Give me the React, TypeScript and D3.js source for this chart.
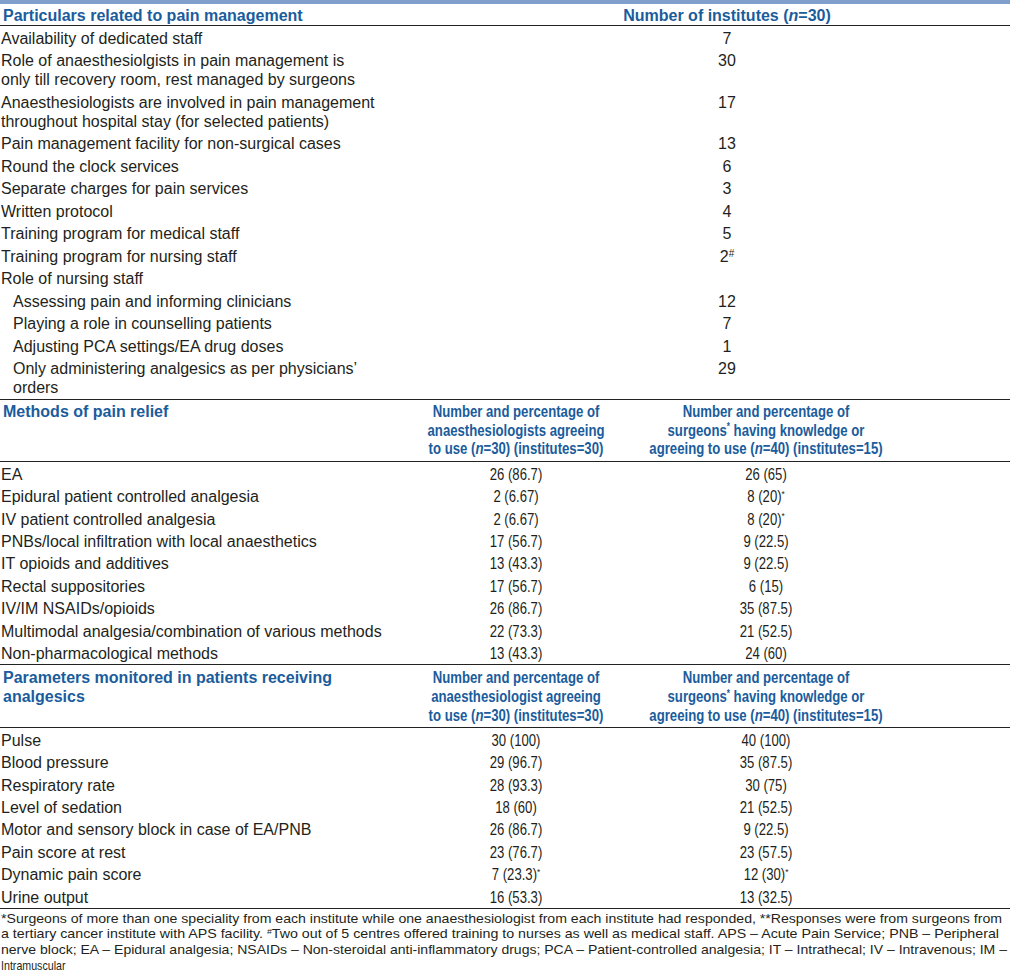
import React from "react";
import * as d3 from "d3";

const W = 1010;
const H = 973;
const BLUE = "#1a5c9c";
const INK = "#231f20";
const BAR = "#809fcd";
const REG = "'Liberation Sans', Arial, sans-serif";
const NARROW_X = 0.82;

// ---------- Section 1 ----------
const s1Header = "Particulars related to pain management";
const s1ColHeader = "Number of institutes ({n}=30)";
const s1Labels: string[][] = [
  ["Availability of dedicated staff"],
  ["Role of anaesthesiolgists in pain management is", "only till recovery room, rest managed by surgeons"],
  ["Anaesthesiologists are involved in pain management", "throughout hospital stay (for selected patients)"],
  ["Pain management facility for non-surgical cases"],
  ["Round the clock services"],
  ["Separate charges for pain services"],
  ["Written protocol"],
  ["Training program for medical staff"],
  ["Training program for nursing staff"],
  ["Role of nursing staff"],
  ["Assessing pain and informing clinicians"],
  ["Playing a role in counselling patients"],
  ["Adjusting PCA settings/EA drug doses"],
  ["Only administering analgesics as per physicians\u2019", "orders"],
];
const s1Indent: boolean[] = [false, false, false, false, false, false, false, false, false, false, true, true, true, true];
const s1Values: string[] = ["7", "30", "17", "13", "6", "3", "4", "5", "2{#}", "", "12", "7", "1", "29"];

// ---------- Section 2 ----------
const s2Header = ["Methods of pain relief"];
const s2ColA = ["Number and percentage of", "anaesthesiologists agreeing", "to use ({n}=30) (institutes=30)"];
const s2ColB = ["Number and percentage of", "surgeons{*} having knowledge or", "agreeing to use ({n}=40) (institutes=15)"];
const s2Methods: string[] = [
  "EA",
  "Epidural patient controlled analgesia",
  "IV patient controlled analgesia",
  "PNBs/local infiltration with local anaesthetics",
  "IT opioids and additives",
  "Rectal suppositories",
  "IV/IM NSAIDs/opioids",
  "Multimodal analgesia/combination of various methods",
  "Non-pharmacological methods",
];
const s2Anaes: string[] = ["26 (86.7)", "2 (6.67)", "2 (6.67)", "17 (56.7)", "13 (43.3)", "17 (56.7)", "26 (86.7)", "22 (73.3)", "13 (43.3)"];
const s2Surg: string[] = ["26 (65)", "8 (20){*}", "8 (20){*}", "9 (22.5)", "9 (22.5)", "6 (15)", "35 (87.5)", "21 (52.5)", "24 (60)"];

// ---------- Section 3 ----------
const s3Header = ["Parameters monitored in patients receiving", "analgesics"];
const s3ColA = ["Number and percentage of", "anaesthesiologist agreeing", "to use ({n}=30) (institutes=30)"];
const s3ColB = ["Number and percentage of", "surgeons{*} having knowledge or", "agreeing to use ({n}=40) (institutes=15)"];
const s3Params: string[] = [
  "Pulse",
  "Blood pressure",
  "Respiratory rate",
  "Level of sedation",
  "Motor and sensory block in case of EA/PNB",
  "Pain score at rest",
  "Dynamic pain score",
  "Urine output",
];
const s3Anaes: string[] = ["30 (100)", "29 (96.7)", "28 (93.3)", "18 (60)", "26 (86.7)", "23 (76.7)", "7 (23.3){*}", "16 (53.3)"];
const s3Surg: string[] = ["40 (100)", "35 (87.5)", "30 (75)", "21 (52.5)", "9 (22.5)", "23 (57.5)", "12 (30){*}", "13 (32.5)"];

// ---------- Footnote ----------
const footnotes: string[] = [
  "*Surgeons of more than one speciality from each institute while one anaesthesiologist from each institute had responded, **Responses were from surgeons from",
  "a tertiary cancer institute with APS facility. {#}Two out of 5 centres offered training to nurses as well as medical staff. APS \u2013 Acute Pain Service; PNB \u2013 Peripheral",
  "nerve block; EA \u2013 Epidural analgesia; NSAIDs \u2013 Non-steroidal anti-inflammatory drugs; PCA \u2013 Patient-controlled analgesia; IT \u2013 Intrathecal; IV \u2013 Intravenous; IM \u2013",
  "Intramuscular",
];
const footWidths: (number | null)[] = [1002, 999, 1007, null];

// render a string with {n} italic, {*}/{#} superscripts
function Rich({ s, supSize }: { s: string; supSize: number }) {
  const parts = s.split(/(\{n\}|\{\*\}|\{#\})/).filter((p) => p !== "");
  return (
    <>
      {parts.map((p, i) => {
        if (p === "{n}") return <tspan key={i} fontStyle="italic">n</tspan>;
        if (p === "{*}" || p === "{#}")
          return (
            <tspan key={i} fontSize={supSize} baselineShift="super">
              {p[1]}
            </tspan>
          );
        return <tspan key={i}>{p}</tspan>;
      })}
    </>
  );
}

// condensed text (Arial-Narrow look) made by horizontal scaling
function NText({ x, y, s, size, bold, fill, anchor, sx }: { x: number; y: number; s: string; size: number; bold?: boolean; fill: string; anchor?: string; sx?: number }) {
  return (
    <text
      transform={`translate(${x},${y}) scale(${sx ?? NARROW_X},1)`}
      fontFamily={REG}
      fontSize={size}
      fontWeight={bold ? "bold" : "normal"}
      fill={fill}
      textAnchor={anchor || "start"}
    >
      <Rich s={s} supSize={size * 0.62} />
    </text>
  );
}

export default function App() {
  const lineGap = 19;
  const rowStep = 22.5;
  const s1Heights = s1Labels.map((l) => rowStep + (l.length - 1) * lineGap);
  const s1Start = 38;
  const s1Tops = [0, ...Array.from(d3.cumsum(s1Heights))].slice(0, s1Labels.length).map((v) => s1Start + v);

  const s2Y = d3.scaleLinear().domain([0, s2Methods.length - 1]).range([474, 474 + 22.4 * (s2Methods.length - 1)]);
  const s3Y = d3.scaleLinear().domain([0, s3Params.length - 1]).range([740, 740 + 22.4 * (s3Params.length - 1)]);
  const hdr2 = d3.scaleLinear().domain([0, 2]).range([411, 448]);
  const hdr3 = d3.scaleLinear().domain([0, 2]).range([677, 715]);
  const footY = d3.scaleLinear().domain([0, 3]).range([918, 965]);

  const fs = 16;
  const hfs = 17;
  const hsx = 0.775;
  const base = 5.8;
  const hbase = 6.1;
  const xLeft = 1;
  const xIndent = 13;
  const xS1Val = 727;
  const xColA = 516;
  const xColB = 766;

  const rules = [25, 399, 461, 664, 727, 908];

  return (
    <div style={{ position: "absolute", left: 0, top: 0 }}>
      <svg width={W} height={H} viewBox={`0 0 ${W} ${H}`} style={{ display: "block", background: "#fff" }}>
        <rect x={0} y={0} width={W} height={H} fill="#fff" />
        <rect x={0} y={0} width={W} height={4} fill={BAR} />
        {rules.map((y, i) => (
          <line key={i} x1={0} x2={W} y1={y + 0.5} y2={y + 0.5} stroke="#222" strokeWidth={1} />
        ))}

        {/* Section 1 header */}
        <text x={3} y={15 + base} fontFamily={REG} fontSize={fs} fontWeight="bold" fill={BLUE}>
          {s1Header}
        </text>
        <text x={xS1Val} y={15 + base} fontFamily={REG} fontSize={fs} fontWeight="bold" fill={BLUE} textAnchor="middle">
          <Rich s={s1ColHeader} supSize={10} />
        </text>

        {/* Section 1 rows */}
        {s1Labels.map((lines, i) => (
          <g key={i}>
            {lines.map((ln, j) => (
              <text
                key={j}
                x={s1Indent[i] ? xIndent : xLeft}
                y={s1Tops[i] + j * lineGap + base}
                fontFamily={REG}
                fontSize={fs}
                fill={INK}
              >
                {ln}
              </text>
            ))}
            {s1Values[i] && (
              <text x={xS1Val} y={s1Tops[i] + base} fontFamily={REG} fontSize={fs} fill={INK} textAnchor="middle">
                <Rich s={s1Values[i]} supSize={10} />
              </text>
            )}
          </g>
        ))}

        {/* Section 2 */}
        {s2Header.map((t, j) => (
          <text key={j} x={3} y={hdr2(j) + base} fontFamily={REG} fontSize={fs} fontWeight="bold" fill={BLUE}>
            {t}
          </text>
        ))}
        {s2ColA.map((t, j) => (
          <NText key={"a" + j} x={xColA} y={hdr2(j) + hbase} s={t} size={hfs} sx={hsx} bold fill={BLUE} anchor="middle" />
        ))}
        {s2ColB.map((t, j) => (
          <NText key={"b" + j} x={xColB} y={hdr2(j) + hbase} s={t} size={hfs} sx={hsx} bold fill={BLUE} anchor="middle" />
        ))}
        {s2Methods.map((m, i) => (
          <g key={i}>
            <text x={xLeft} y={s2Y(i) + base} fontFamily={REG} fontSize={fs} fill={INK}>
              {m}
            </text>
            <NText x={xColA} y={s2Y(i) + base} s={s2Anaes[i]} size={fs} fill={INK} anchor="middle" />
            <NText x={xColB} y={s2Y(i) + base} s={s2Surg[i]} size={fs} fill={INK} anchor="middle" />
          </g>
        ))}

        {/* Section 3 */}
        {s3Header.map((t, j) => (
          <text key={j} x={3} y={hdr3(j) + base} fontFamily={REG} fontSize={fs} fontWeight="bold" fill={BLUE}>
            {t}
          </text>
        ))}
        {s3ColA.map((t, j) => (
          <NText key={"a" + j} x={xColA} y={hdr3(j) + hbase} s={t} size={hfs} sx={hsx} bold fill={BLUE} anchor="middle" />
        ))}
        {s3ColB.map((t, j) => (
          <NText key={"b" + j} x={xColB} y={hdr3(j) + hbase} s={t} size={hfs} sx={hsx} bold fill={BLUE} anchor="middle" />
        ))}
        {s3Params.map((m, i) => (
          <g key={i}>
            <text x={xLeft} y={s3Y(i) + base} fontFamily={REG} fontSize={fs} fill={INK}>
              {m}
            </text>
            <NText x={xColA} y={s3Y(i) + base} s={s3Anaes[i]} size={fs} fill={INK} anchor="middle" />
            <NText x={xColB} y={s3Y(i) + base} s={s3Surg[i]} size={fs} fill={INK} anchor="middle" />
          </g>
        ))}

        {/* Footnotes */}
        {footnotes.map((t, i) =>
          footWidths[i] ? (
            <text
              key={i}
              x={1}
              y={footY(i) + 4.5}
              fontFamily={REG}
              fontSize={13}
              fill={INK}
              textLength={footWidths[i]! - 1}
              lengthAdjust="spacingAndGlyphs"
            >
              <Rich s={t} supSize={8} />
            </text>
          ) : (
            <NText key={i} x={1} y={footY(i) + 4.5} s={t} size={13} fill={INK} />
          )
        )}
      </svg>
    </div>
  );
}
